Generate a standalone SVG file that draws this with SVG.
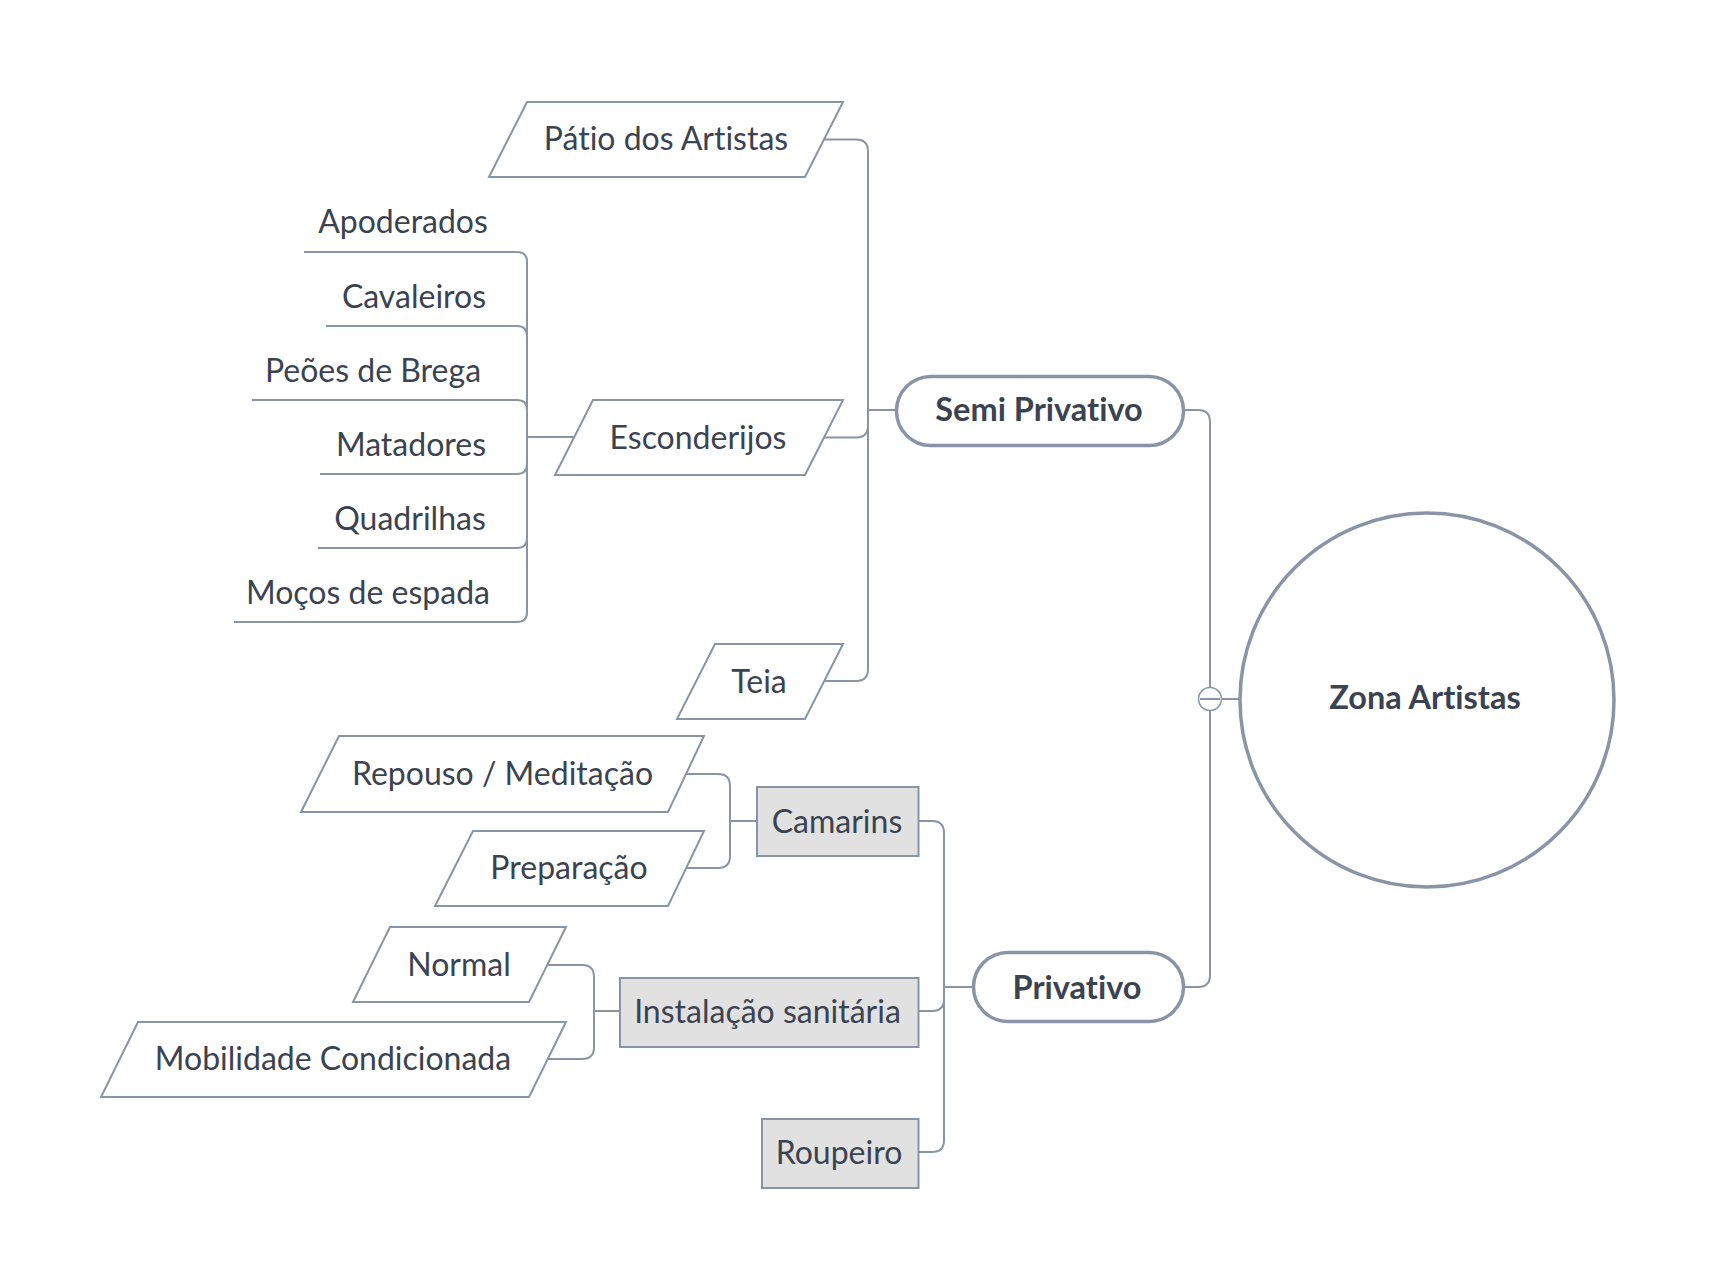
<svg xmlns="http://www.w3.org/2000/svg" width="1714" height="1288" viewBox="0 0 1714 1288">
<style>
  .t{font-family:Lato,"Noto Sans","Liberation Sans",sans-serif;font-size:32px;fill:#3b4350;text-anchor:middle;font-variant-ligatures:none}
  .b{font-weight:bold;font-size:32.5px}
  .para{fill:#ffffff;stroke:#8a94a7;stroke-width:2}
  .box{fill:#e1e1e1;stroke:#8a94a7;stroke-width:2}
  .pill{fill:#ffffff;stroke:#8a94a7;stroke-width:3.5}
  .conn path{fill:none;stroke:#8a94a7;stroke-width:2}
</style>
<rect width="1714" height="1288" fill="#ffffff"/>
<g id="connectors" class="conn">
  <path d="M527 437 L527 262 Q527 252 517 252 L304 252"/>
  <path d="M527 437 L527 336 Q527 326 517 326 L326 326"/>
  <path d="M527 437 L527 410 Q527 400 517 400 L252 400"/>
  <path d="M527 437 L527 464 Q527 474 517 474 L320 474"/>
  <path d="M527 437 L527 538 Q527 548 517 548 L318 548"/>
  <path d="M527 437 L527 612 Q527 622 517 622 L234 622"/>
  <path d="M527 437 L575 437"/>
  <path d="M896 410 L868 410"/>
  <path d="M868 410 L868 151.5 Q868 139.5 856 139.5 L822 139.5"/>
  <path d="M868 410 L868 425.5 Q868 437.5 856 437.5 L822 437.5"/>
  <path d="M868 410 L868 669 Q868 681 856 681 L822 681"/>
  <path d="M1185 410 L1198 410 Q1210 410 1210 422 L1210 975 Q1210 987 1198 987 L1185 987"/>
  <path d="M1222 699 L1240 699"/>
  <path d="M973 987 L944 987"/>
  <path d="M944 987 L944 833 Q944 821 932 821 L919 821"/>
  <path d="M944 987 L944 999 Q944 1011 932 1011 L919 1011"/>
  <path d="M944 987 L944 1140 Q944 1152 932 1152 L919 1152"/>
  <path d="M757 821 L730 821"/>
  <path d="M730 821 L730 786 Q730 774 718 774 L684 774"/>
  <path d="M730 821 L730 856 Q730 868 718 868 L684 868"/>
  <path d="M619 1011 L594 1011"/>
  <path d="M594 1011 L594 977 Q594 965 582 965 L546 965"/>
  <path d="M594 1011 L594 1047 Q594 1059 582 1059 L546 1059"/>
</g>
<g id="root">
  <circle cx="1427" cy="700" r="187" fill="#ffffff" stroke="#8a94a7" stroke-width="3.5"/>
  <text class="t b" x="1425" y="709">Zona Artistas</text>
</g>
<g id="collapse">
  <circle cx="1210" cy="699" r="11.5" fill="#ffffff" stroke="#8a94a7" stroke-width="1.5"/>
  <line x1="1200" y1="699" x2="1220" y2="699" stroke="#8a94a7" stroke-width="2"/>
</g>
<g id="semi-privativo">
  <rect class="pill" x="896.5" y="376.5" width="287" height="69" rx="34.5"/>
  <text class="t b" x="1039" y="421">Semi Privativo</text>
</g>
<g id="privativo">
  <rect class="pill" x="973.5" y="952.5" width="210" height="69" rx="34.5"/>
  <text class="t b" x="1077" y="999">Privativo</text>
</g>
<g id="patio">
  <polygon class="para" points="527,102 843,102 805,177 489,177"/>
  <text class="t" x="666" y="150">Pátio dos Artistas</text>
</g>
<g id="esconderijos">
  <polygon class="para" points="593,400 843,400 805,475 555,475"/>
  <text class="t" x="698" y="449">Esconderijos</text>
</g>
<g id="teia">
  <polygon class="para" points="715,644 843,644 805,719 677,719"/>
  <text class="t" x="759" y="693">Teia</text>
</g>
<g id="apoderados"><text class="t" x="403" y="233">Apoderados</text></g>
<g id="cavaleiros"><text class="t" x="414" y="308">Cavaleiros</text></g>
<g id="peoes"><text class="t" x="373" y="382">Peões de Brega</text></g>
<g id="matadores"><text class="t" x="411" y="456">Matadores</text></g>
<g id="quadrilhas"><text class="t" x="410" y="530">Quadrilhas</text></g>
<g id="mocos"><text class="t" x="368" y="604">Moços de espada</text></g>
<g id="camarins">
  <rect class="box" x="757" y="787" width="161.5" height="69"/>
  <text class="t" x="837" y="833">Camarins</text>
</g>
<g id="repouso">
  <polygon class="para" points="339,736 704,736 668,812 301,812"/>
  <text class="t" x="502.5" y="785">Repouso / Meditação</text>
</g>
<g id="preparacao">
  <polygon class="para" points="473,831 704,831 668,906 435,906"/>
  <text class="t" x="569" y="879">Preparação</text>
</g>
<g id="instalacao">
  <rect class="box" x="620" y="978" width="298.5" height="69"/>
  <text class="t" x="767.5" y="1023">Instalação sanitária</text>
</g>
<g id="normal">
  <polygon class="para" points="390,927 566,927 529,1002 353,1002"/>
  <text class="t" x="459" y="976">Normal</text>
</g>
<g id="mobilidade">
  <polygon class="para" points="138,1022 566,1022 529,1097 101,1097"/>
  <text class="t" x="333" y="1070">Mobilidade Condicionada</text>
</g>
<g id="roupeiro">
  <rect class="box" x="762" y="1119" width="156.5" height="69"/>
  <text class="t" x="839" y="1164">Roupeiro</text>
</g>
</svg>
